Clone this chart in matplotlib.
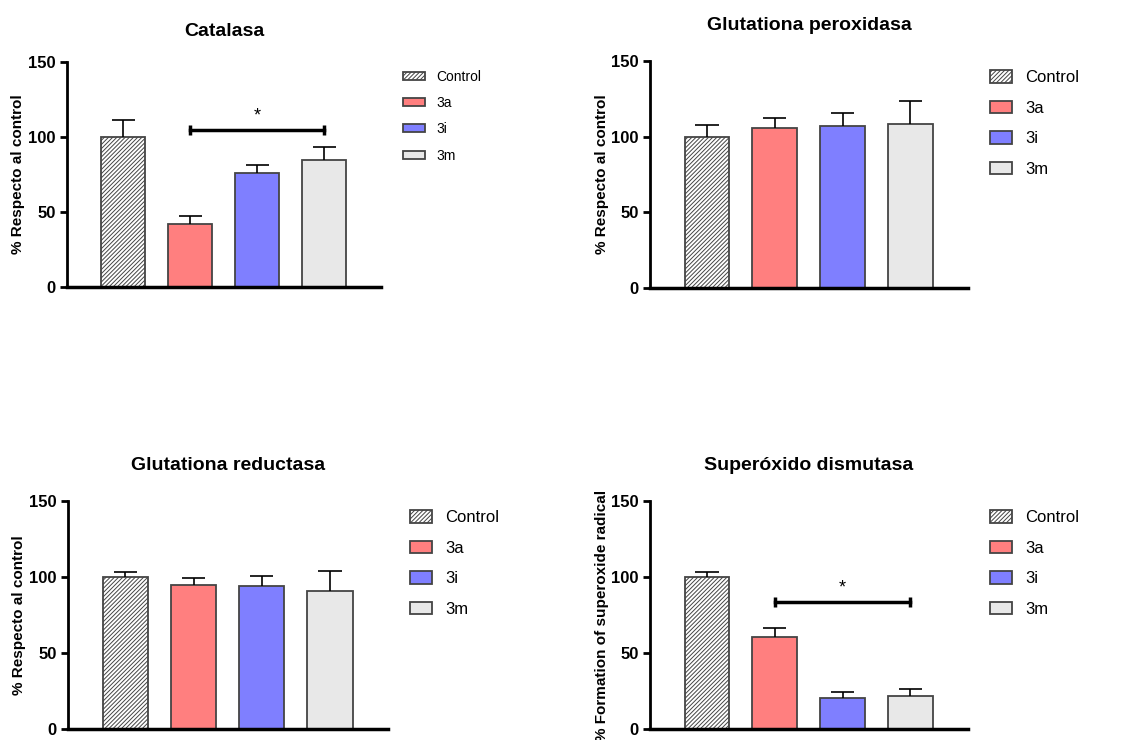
import numpy as np
import matplotlib
matplotlib.use("Agg")
import matplotlib.pyplot as plt

plt.rcParams['font.family'] = ['Liberation Sans', 'DejaVu Sans']
plt.rcParams['hatch.linewidth'] = 0.7

# datos
grupos = ["Control", "3a", "3i", "3m"]
colores = ["white", "#FF7F7F", "#7F7FFF", "#E8E8E8"]

cat_media = [100, 42, 76, 84.5]
cat_err = [11.5, 5.5, 5.5, 9]
gpx_media = [100, 106, 107, 108.5]
gpx_err = [8, 6.5, 8.5, 15]
gr_media = [100, 95, 94, 91]
gr_err = [3.5, 4.5, 7, 13]
sod_media = [100, 60.5, 20.5, 22]
sod_err = [3.3, 6, 4, 4.5]

cat_sig = (1, 3, 105)     # desde 3a hasta 3m, altura
sod_sig = (1, 3, 83.5)

yticks = [0, 50, 100, 150]


def panel(rect, titulo, ylabel, media, err, sig=None, leg_size=12, leg_h=0.8,
          leg_len=1.3, leg_sp=0.92, leg_y=0.96, label_x=-0.13, title_pad=22):
    ax = fig.add_axes(rect)
    x = np.arange(len(grupos))
    for i in range(len(grupos)):
        ax.bar(x[i], media[i], width=0.66, color=colores[i],
               edgecolor="#444444", linewidth=1.3,
               hatch="////////" if i == 0 else None, label=grupos[i], zorder=2)
    # barras de error (solo hacia arriba)
    tops = np.array(media) + np.array(err)
    ax.vlines(x, media, tops, color="black", linewidth=1.2, zorder=3)
    ax.hlines(tops, x - 0.17, x + 0.17, color="black", linewidth=1.2, zorder=3)
    if sig is not None:
        a, b, h = sig
        ax.plot([a, b], [h, h], color="black", linewidth=2.5,
                marker="|", markersize=7, markeredgewidth=2.5, zorder=3)
        ax.text((a + b) / 2, h + 9, "*", ha="center", va="center", fontsize=13)
    ax.set_xlim(-0.84, 3.85)
    ax.set_ylim(0, 150)
    ax.set_yticks(yticks)
    ax.set_xticks([])
    for lab in ax.get_yticklabels():
        lab.set_fontweight("bold")
    ax.tick_params(axis="y", length=5, width=2, labelsize=12, pad=3)
    ax.spines["top"].set_visible(False)
    ax.spines["right"].set_visible(False)
    ax.spines["left"].set_linewidth(2)
    ax.spines["bottom"].set_linewidth(2.5)
    ax.set_title(titulo, fontsize=14, fontweight="bold", pad=title_pad)
    ax.set_ylabel(ylabel, fontsize=11, fontweight="bold")
    ax.yaxis.set_label_coords(label_x, 0.5)
    ax.legend(loc="upper left", bbox_to_anchor=(1.07, leg_y), frameon=False,
              fontsize=leg_size, handlelength=leg_len, handleheight=leg_h,
              handletextpad=0.8, labelspacing=leg_sp, borderpad=0, borderaxespad=0)
    return ax


fig = plt.figure(figsize=(11.24, 7.4), dpi=100)

panel([0.0596, 0.6122, 0.2794, 0.304], "Catalasa", "% Respecto al control",
      cat_media, cat_err, cat_sig, leg_size=10, leg_h=0.5, leg_len=1.6,
      leg_sp=0.88, leg_y=0.965, label_x=-0.134, title_pad=19)
panel([0.5783, 0.6108, 0.283, 0.3068], "Glutationa peroxidasa",
      "% Respecto al control", gpx_media, gpx_err)
panel([0.0605, 0.0149, 0.2847, 0.308], "Glutationa reductasa",
      "% Respecto al control", gr_media, gr_err)
panel([0.5783, 0.0149, 0.283, 0.308], "Superóxido dismutasa",
      "% Formation of superoxide radical", sod_media, sod_err, sod_sig)

plt.savefig("out.png", dpi=100)
